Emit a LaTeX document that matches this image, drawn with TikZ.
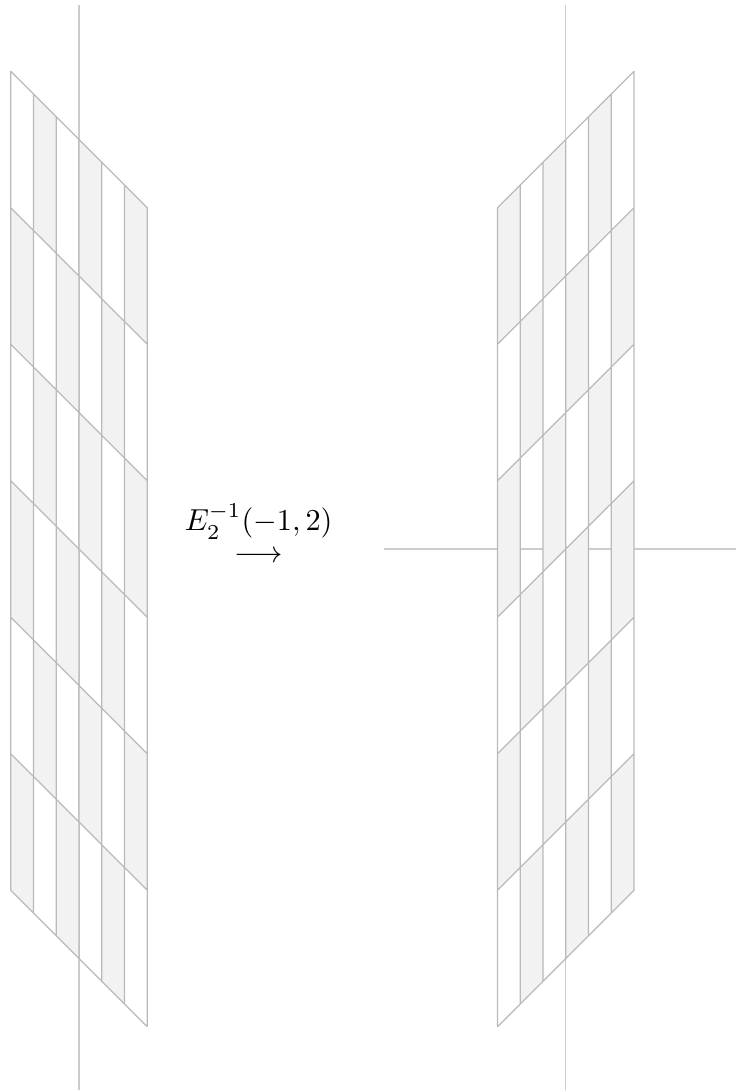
\documentclass[tikz,border=0pt]{standalone}
\usepackage{amsmath}
\begin{document}
\begin{tikzpicture}[
  x=7.5pt, y=7.5pt,
  axis/.style={line width=0.4pt, draw=black!20},
  cell/.style={fill=black!5},
  rule/.style={line width=0.4pt, draw=black!27},
  every node/.style={font=\normalsize}
]
  \useasboundingbox (-3.47,-23.78) rectangle (28.88,24.13);

  % grid before the map
  \draw[axis] (0,23.9) -- (0,-23.78);
  \begin{scope}[cm={1,-1,0,1,(0,0)}]
    \foreach \i in {0,...,5} {
      \foreach \j in {0,...,5} {
        \pgfmathtruncatemacro{\cellodd}{mod(\i+\j,2)}
        \ifnum\cellodd=1
          \fill[cell] (\i-3,12-6*\j) rectangle (\i-2,18-6*\j);
        \fi
      }
    }
    \draw[rule] (-3,-18) grid[xstep=1, ystep=6] (3,18);
  \end{scope}

  \node[align=center, inner sep=0pt] (map) at (7.9,0.68) {$E_2^{-1}(-1,2)$\\[-1.5pt]$\longrightarrow$};

  % grid after the map
  \draw[axis] (21.4,23.9) -- (21.4,-23.78);
  \draw[axis] (13.4,0) -- (28.88,0);
  \begin{scope}[shift={(21.4,0)}, cm={1,1,0,1,(0,0)}]
    \foreach \i in {0,...,5} {
      \foreach \j in {0,...,5} {
        \pgfmathtruncatemacro{\cellodd}{mod(\i+\j,2)}
        \ifnum\cellodd=0
          \fill[cell] (\i-3,12-6*\j) rectangle (\i-2,18-6*\j);
        \fi
      }
    }
    \draw[rule] (-3,-18) grid[xstep=1, ystep=6] (3,18);
  \end{scope}
\end{tikzpicture}
\end{document}
